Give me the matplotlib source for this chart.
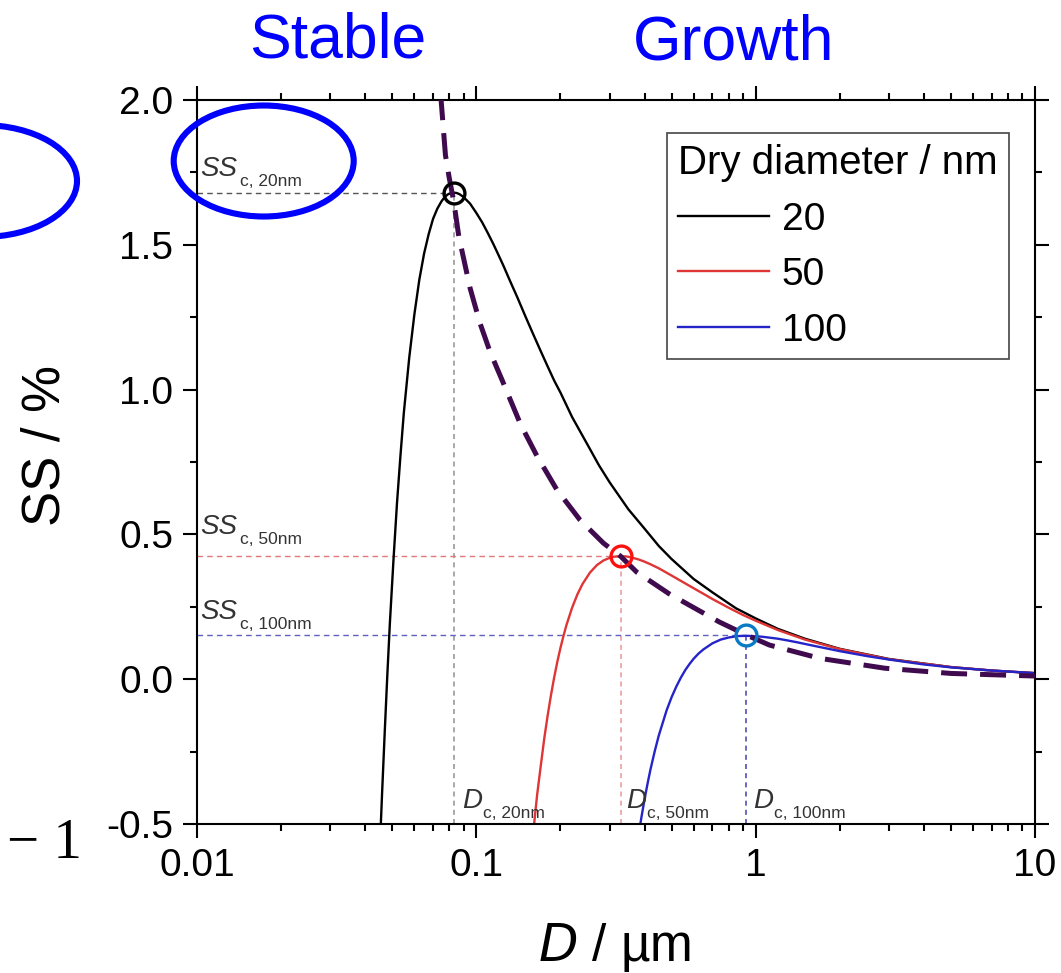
import matplotlib
matplotlib.use('Agg')
import matplotlib.pyplot as plt
from matplotlib.patches import Ellipse
from matplotlib.ticker import FixedLocator, LogLocator, MultipleLocator, FixedFormatter, NullFormatter

# Köhler curves (D in um, SS in %)
d_20 = [0.045, 0.0455, 0.046, 0.047, 0.048, 0.049, 0.0505, 0.052, 0.0535, 0.055,
        0.0575, 0.060, 0.0625, 0.065, 0.0675, 0.070, 0.0725, 0.075, 0.077, 0.079,
        0.081, 0.083, 0.085, 0.087, 0.090, 0.095, 0.10, 0.105, 0.11, 0.115,
        0.12, 0.125, 0.13, 0.135, 0.14, 0.15, 0.16, 0.17, 0.18, 0.19,
        0.20, 0.22, 0.25, 0.275, 0.30, 0.35, 0.40, 0.45, 0.50, 0.60,
        0.70, 0.85, 1.0, 1.2, 1.5, 2.0, 3.0, 5.0, 7.0, 10.0]
ss_20 = [-0.62, -0.50, -0.388, -0.18, 0.014, 0.19, 0.412, 0.61, 0.773, 0.92,
         1.11, 1.26, 1.38, 1.47, 1.537, 1.59, 1.625, 1.65, 1.665, 1.674,
         1.679, 1.68, 1.679, 1.675, 1.665, 1.642, 1.61, 1.577, 1.54, 1.503,
         1.465, 1.428, 1.39, 1.354, 1.32, 1.252, 1.19, 1.133, 1.08, 1.031,
         0.99, 0.906, 0.81, 0.738, 0.68, 0.587, 0.52, 0.46, 0.415, 0.346,
         0.30, 0.245, 0.21, 0.174, 0.14, 0.105, 0.07, 0.042, 0.030, 0.021]

d_50 = [0.160, 0.165, 0.170, 0.175, 0.180, 0.185, 0.190, 0.195, 0.20, 0.205,
        0.21, 0.22, 0.23, 0.24, 0.255, 0.27, 0.285, 0.30, 0.31, 0.328,
        0.345, 0.36, 0.38, 0.40, 0.42, 0.45, 0.50, 0.55, 0.60, 0.65,
        0.70, 0.80, 0.90, 1.0, 1.2, 1.5, 2.0, 3.0, 5.0, 7.0, 10.0]
ss_50 = [-0.525, -0.40, -0.30, -0.205, -0.125, -0.055, 0.007, 0.061, 0.108, 0.149,
         0.186, 0.246, 0.293, 0.329, 0.368, 0.394, 0.410, 0.419, 0.423, 0.425,
         0.424, 0.420, 0.414, 0.406, 0.397, 0.383, 0.358, 0.335, 0.314, 0.295,
         0.277, 0.247, 0.222, 0.202, 0.170, 0.137, 0.104, 0.069, 0.042, 0.030, 0.021]

d_100 = [0.38, 0.39, 0.40, 0.41, 0.42, 0.435, 0.45, 0.48, 0.50, 0.52,
         0.54, 0.56, 0.58, 0.60, 0.625, 0.65, 0.70, 0.75, 0.80, 0.86,
         0.93, 1.05, 1.2, 1.3, 1.4, 1.55, 1.7, 2.0, 2.5, 3.0,
         4.0, 5.0, 7.0, 10.0]
ss_100 = [-0.544, -0.476, -0.415, -0.361, -0.312, -0.249, -0.194, -0.107, -0.062, -0.025,
          0.006, 0.032, 0.053, 0.071, 0.089, 0.103, 0.124, 0.137, 0.144, 0.149,
          0.150, 0.147, 0.140, 0.134, 0.128, 0.119, 0.111, 0.097, 0.080, 0.068,
          0.051, 0.041, 0.030, 0.021]

# locus of critical points (dashed)
d_locus = [0.0745, 0.0775, 0.080, 0.083, 0.0865, 0.095, 0.103, 0.112, 0.124, 0.144, 0.165, 0.194,
           0.235, 0.285, 0.328, 0.375, 0.49, 0.74, 0.93, 1.12, 1.7, 2.9, 5.0, 10.0]
ss_locus = [2.02, 1.81, 1.73, 1.65, 1.53, 1.35, 1.23, 1.13, 1.03, 0.88, 0.77, 0.655,
            0.55, 0.47, 0.425, 0.37, 0.295, 0.198, 0.152, 0.118, 0.072, 0.038, 0.020, 0.011]

dry_sizes = ['20', '50', '100']
crit_d = [0.083, 0.329, 0.92]
crit_ss = [1.68, 0.425, 0.152]

x_ticks = [0.01, 0.1, 1, 10]
x_ticklabels = ['0.01', '0.1', '1', '10']
y_ticks = [-0.5, 0.0, 0.5, 1.0, 1.5, 2.0]

plt.rcParams['font.family'] = ['Liberation Sans', 'DejaVu Sans']
plt.rcParams['axes.unicode_minus'] = False

fig = plt.figure(figsize=(10.61, 9.73), dpi=100)
ax = fig.add_axes([0.1857, 0.1531, 0.7898, 0.7441])

curve_colors = ['black', '#e03535', '#2424c8']
hline_colors = ['#555555', '#e07878', '#6060c0']
vline_colors = ['#9a9a9a', '#e8a0a0', '#5050b0']
circle_colors = ['black', '#ff1010', '#0a7ac4']

# guide lines from the critical points
for dc, sc, hc, vc in zip(crit_d, crit_ss, hline_colors, vline_colors):
    ax.plot([0.01, dc], [sc, sc], color=hc, lw=1.0, dashes=(4, 3), zorder=1)
    ax.plot([dc, dc], [-0.5, sc], color=vc, lw=1.2, dashes=(3, 2.5), zorder=1)

handles = []
for d, s, c in zip([d_20, d_50, d_100], [ss_20, ss_50, ss_100], curve_colors):
    h, = ax.plot(d, s, color=c, lw=1.7, zorder=2)
    handles.append(h)

ax.plot(d_locus, ss_locus, color='#400b4e', lw=3.6, dashes=(5.2, 2.6), zorder=3)

for dc, sc, cc in zip(crit_d, crit_ss, circle_colors):
    ax.plot(dc, sc, 'o', ms=15, mfc='none', mec=cc, mew=2.4, zorder=4)

ax.set_xscale('log')
ax.set_xlim(0.01, 10)
ax.set_ylim(-0.5, 2.0)
ax.xaxis.set_major_locator(FixedLocator(x_ticks))
ax.xaxis.set_major_formatter(FixedFormatter(x_ticklabels))
ax.xaxis.set_minor_locator(LogLocator(base=10, subs=range(2, 10)))
ax.xaxis.set_minor_formatter(NullFormatter())
ax.yaxis.set_major_locator(FixedLocator(y_ticks))
ax.yaxis.set_minor_locator(MultipleLocator(0.25))
ax.set_yticklabels(['%.1f' % v for v in y_ticks])

ax.tick_params(which='both', direction='out', top=True, right=True, width=1.5, labelsize=28, pad=7)
ax.tick_params(which='major', length=10)
ax.tick_params(which='minor', length=5)
for sp in ax.spines.values():
    sp.set_linewidth(1.5)

# axis titles placed in figure pixels
fig.text(615 / 1061, 1 - 961 / 973, '$\\mathit{D}$ / µm', fontsize=37, ha='center', va='baseline')
fig.text(60 / 1061, 1 - 446 / 973, 'SS / %', fontsize=38, rotation=90, rotation_mode='anchor',
         ha='center', va='baseline')

# text labels for critical values (main symbol + subscript)
txt_color = '#333333'
for s, y in zip(dry_sizes, [1.737, 0.50, 0.207]):
    ax.annotate('SS', (0.0103, y), fontsize=20, style='italic', color=txt_color,
                va='baseline', ha='left', zorder=5)
    ax.annotate('c, %snm' % s, (0.0103, y), xytext=(28, -7), textcoords='offset points',
                fontsize=12.5, color=txt_color, va='baseline', ha='left', zorder=5)
for s, x in zip(dry_sizes, [0.0887, 0.3446, 0.9795]):
    ax.annotate('D', (x, -0.444), fontsize=20, style='italic', color=txt_color,
                va='baseline', ha='left', zorder=5)
    ax.annotate('c, %snm' % s, (x, -0.444), xytext=(15, -7), textcoords='offset points',
                fontsize=12.5, color=txt_color, va='baseline', ha='left', zorder=5)

leg = ax.legend(handles, dry_sizes, title='Dry diameter / nm', loc='upper left',
                bbox_to_anchor=(0.561, 0.954), borderaxespad=0, fontsize=28, title_fontsize=29,
                frameon=True, fancybox=False, framealpha=1, edgecolor='#444444',
                handlelength=2.35, handletextpad=0.32, labelspacing=0.5, borderpad=0.28,
                alignment='left')
leg.get_frame().set_linewidth(1.2)

# annotations around the plot
fig.text(338 / 1061, 1 - 57.5 / 973, 'Stable', fontsize=45, color='#0000ff', ha='center', va='baseline')
fig.text(734 / 1061, 1 - 59 / 973, 'Growth', fontsize=45, color='#0000ff', ha='center', va='baseline')
fig.text(7 / 1061, 1 - 858 / 973, '\u2212 1', fontsize=41, family=['Liberation Serif', 'DejaVu Serif'],
         color='black', ha='left', va='baseline')

fig.add_artist(Ellipse((263.7 / 1061, 1 - 161 / 973), 180 / 1061, 111 / 973, transform=fig.transFigure,
                       fill=False, ec='#0000ff', lw=4.4, zorder=10))
fig.add_artist(Ellipse((-18 / 1061, 1 - 181 / 973), 190 / 1061, 112 / 973, transform=fig.transFigure,
                       fill=False, ec='#0000ff', lw=4.4, zorder=10))

fig.savefig('out.png', dpi=100)
